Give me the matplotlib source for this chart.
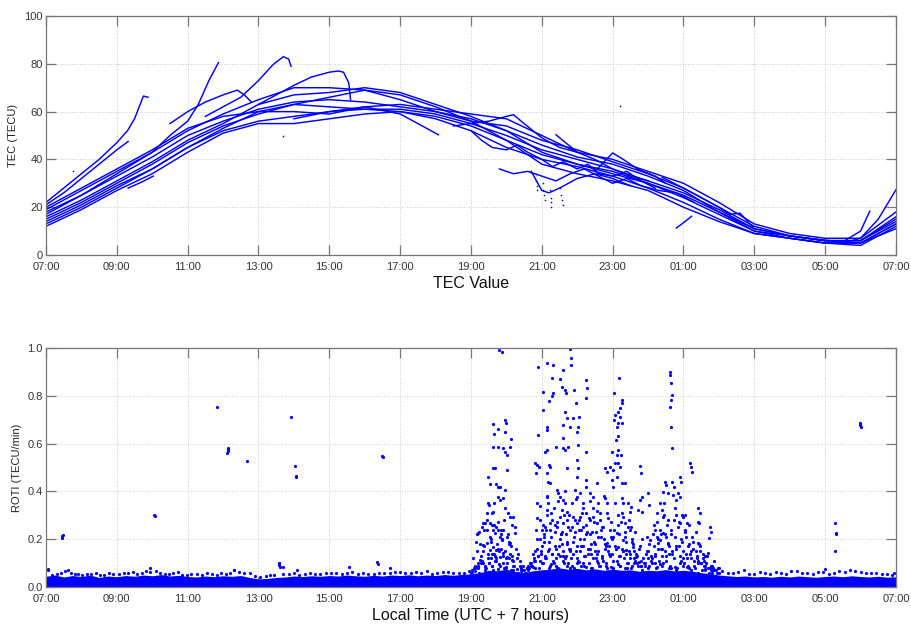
import matplotlib
matplotlib.use("Agg")
import matplotlib.pyplot as plt

# ---------------- data ----------------
hour_ticks = [7, 9, 11, 13, 15, 17, 19, 21, 23, 25, 27, 29, 31]
hour_tick_labels = ["07:00", "09:00", "11:00", "13:00", "15:00", "17:00", "19:00",
                    "21:00", "23:00", "01:00", "03:00", "05:00", "07:00"]
tec_yticks = [0, 20, 40, 60, 80, 100]
roti_yticks = [0.0, 0.2, 0.4, 0.6, 0.8, 1.0]
roti_yticklabels = ["0.0", "0.2", "0.4", "0.6", "0.8", "1.0"]

hours_full = [7, 8, 9, 10, 11, 12, 13, 14, 15, 16, 17, 18, 19, 20, 21, 22, 23, 24,
              25, 26, 27, 28, 29, 30, 31]
sat01 = [13, 20, 28, 36, 45, 52, 56, 58, 60, 61, 60, 57, 52, 45, 40, 37, 33, 28, 22, 15, 9, 7, 5, 5, 11]
sat02 = [15, 22, 30, 38, 47, 54, 59, 63, 66, 69, 67, 62, 56, 48, 42, 38, 35, 30, 24, 17, 10, 8, 6, 5, 13]
sat03 = [17, 25, 33, 41, 50, 56, 61, 64, 65, 64, 62, 60, 57, 52, 46, 41, 38, 33, 27, 18, 11, 8, 6, 6, 15]
sat04 = [19, 27, 35, 43, 52, 59, 65, 70, 70, 69, 65, 60, 56, 54, 48, 44, 39, 34, 28, 20, 12, 8, 6, 6, 16]
sat05 = [20, 28, 36, 44, 53, 58, 60, 60, 59, 62, 63, 61, 59, 57, 50, 43, 40, 35, 30, 22, 13, 9, 7, 7, 18]
sat06 = [12, 19, 27, 34, 43, 51, 55, 55, 57, 59, 60, 58, 54, 48, 38, 34, 31, 27, 20, 14, 9, 7, 5, 4, 12]
sat07 = [14, 21, 29, 36, 45, 53, 60, 63, 62, 61, 61, 59, 55, 50, 44, 40, 36, 31, 26, 19, 11, 8, 6, 6, 14]
sat08 = [16, 23, 31, 39, 48, 55, 63, 67, 68, 70, 68, 63, 58, 52, 43, 38, 34, 30, 25, 18, 10, 7, 5, 5, 13]

sat09_t = [7, 7.5, 8, 8.5, 9, 9.3, 9.5, 9.75, 9.88]
sat09_v = [22, 28, 34, 40, 47, 52, 57, 66.5, 66]
sat10_t = [7, 7.5, 8, 8.5, 9, 9.32]
sat10_v = [21, 26, 32, 38, 44, 47.5]
sat11_t = [7, 8, 9, 10, 10.5, 11, 11.3, 11.6, 11.87]
sat11_v = [18, 25, 34, 43, 50, 56, 63, 73, 80.5]
sat12_t = [11.5, 12, 12.5, 13, 13.4, 13.7, 13.85, 13.92]
sat12_v = [58, 62, 66, 73, 79.5, 83, 82, 79]
sat13_t = [10.5, 11, 11.5, 12, 12.4, 12.6, 12.8]
sat13_v = [55, 60, 64, 67, 69, 67, 64]
sat14_t = [13, 13.5, 14, 14.5, 15, 15.25, 15.4, 15.55, 15.6]
sat14_v = [63, 67, 71, 74.5, 76.5, 77, 76.5, 72, 65]
sat15_t = [14, 15, 16, 17, 17.5, 18.08]
sat15_v = [57, 60, 62, 59, 55, 50.3]
sat16_t = [18.5, 19, 19.5, 20, 20.2, 20.5, 21, 21.5, 22]
sat16_v = [54, 55, 56, 58, 58.7, 55, 49, 45, 43]
sat17_t = [21.4, 22, 22.5, 23, 23.5, 24]
sat17_v = [50.3, 43, 40, 36, 33, 31]
sat18_t = [20.7, 21.0, 21.2, 21.5, 22, 22.5, 23, 23.5]
sat18_v = [35, 27, 26, 28, 32, 34, 32, 29]
sat19_t = [22.5, 23.0, 23.3, 23.7, 24.2, 24.5]
sat19_v = [35, 42.7, 40, 36, 33, 30]
sat20_t = [24.8, 25.0, 25.23]
sat20_v = [11.3, 13.5, 16.2]
sat21_t = [28.5, 29.5, 30.0, 30.26]
sat21_v = [7, 5.5, 10, 18.3]
sat22_t = [29.5, 30, 30.5, 31]
sat22_v = [5, 7, 15, 27.3]
sat23_t = [9.32, 9.7, 10.03]
sat23_v = [28, 30.5, 33]
sat24_t = [24.4, 25, 25.5, 26, 26.3, 26.6, 27]
sat24_v = [32.5, 28, 24, 20, 17, 17.5, 11]
sat25_t = [19, 19.3, 19.6, 20, 20.3, 20.6, 21, 21.3, 21.6, 22, 22.3, 22.6, 23, 23.4, 23.8, 24.2]
sat25_v = [52, 48, 45, 44, 46, 43, 40, 37, 39, 36, 38, 34, 33, 35, 31, 28]
sat26_t = [19.8, 20.2, 20.6, 21.0, 21.4, 21.8, 22.2, 22.6, 23.0, 23.4, 23.8, 24.3, 24.8, 25.3]
sat26_v = [36, 34, 35, 33, 31, 34, 36, 33, 30, 32, 29, 27, 26, 22]

tec_dots_t = [7.77, 13.68, 23.2, 20.83, 20.84, 20.85, 20.86, 21.02, 21.04, 21.06, 21.08,
              21.24, 21.25, 21.26, 21.27, 21.52, 21.55, 21.57, 21.59]
tec_dots_v = [35, 49.7, 62.2, 34, 31, 29, 27, 30, 27, 25, 23, 27, 24, 22, 20, 28, 25, 23, 21]

# ROTI quiet background level (upper edge of the dense band), every 15 min 07:00 -> 07:00
roti_band_t = [7.0 + 0.25 * i for i in range(97)]
roti_band_v = [0.045, 0.05, 0.042, 0.048, 0.044, 0.05, 0.04, 0.046, 0.043,
               0.048, 0.045, 0.05, 0.047, 0.052, 0.046, 0.049, 0.044,
               0.042, 0.046, 0.043, 0.047, 0.045, 0.048, 0.04, 0.034,
               0.036, 0.04, 0.042, 0.046, 0.044, 0.047, 0.045, 0.048,
               0.046, 0.05, 0.047, 0.045, 0.049, 0.046, 0.05, 0.048,
               0.051, 0.047, 0.05, 0.048, 0.052, 0.049, 0.053, 0.055,
               0.06, 0.07, 0.068, 0.075, 0.065, 0.06, 0.068, 0.072,
               0.075, 0.08, 0.074, 0.078, 0.072, 0.076, 0.07, 0.075,
               0.07, 0.072, 0.066, 0.07, 0.068, 0.073, 0.067, 0.07,
               0.066, 0.06, 0.056, 0.05, 0.047, 0.044, 0.046, 0.042,
               0.044, 0.041, 0.045, 0.042, 0.046, 0.043, 0.041, 0.044,
               0.046, 0.043, 0.047, 0.044, 0.042, 0.045, 0.041, 0.043]

roti_edge_t = [7.05, 7.3, 7.55, 7.7, 7.9, 8.15, 8.4, 8.65, 8.9, 9.2, 9.45, 9.7, 9.95,
               10.1, 10.35, 10.6, 10.85, 11.1, 11.4, 11.7, 11.95, 12.2, 12.45, 12.6,
               12.9, 13.2, 13.45, 13.7, 14.0, 14.3, 14.6, 14.9, 15.2, 15.5, 15.8, 16.1,
               16.4, 16.7, 17.0, 17.3, 17.6, 17.9, 18.2, 18.5, 18.8, 19.1, 26.1, 26.4,
               26.7, 27.0, 27.3, 27.6, 27.9, 28.2, 28.5, 28.8, 29.1, 29.4, 29.7, 30.0,
               30.3, 30.6, 30.9]
roti_edge_v = [0.07, 0.055, 0.065, 0.06, 0.055, 0.055, 0.058, 0.05, 0.055, 0.058, 0.062,
               0.06, 0.064, 0.066, 0.055, 0.058, 0.052, 0.055, 0.05, 0.054, 0.058, 0.06,
               0.062, 0.058, 0.045, 0.046, 0.052, 0.055, 0.058, 0.055, 0.056, 0.058, 0.06,
               0.058, 0.055, 0.056, 0.058, 0.06, 0.062, 0.058, 0.06, 0.056, 0.062, 0.058,
               0.06, 0.066, 0.065, 0.058, 0.07, 0.055, 0.058, 0.062, 0.055, 0.066, 0.058,
               0.062, 0.055, 0.066, 0.07, 0.062, 0.058, 0.055, 0.052]
roti_edge2_t = [7.18, 7.42, 7.62, 7.82, 8.02, 8.28, 8.52, 8.78, 9.05, 9.32, 9.58, 9.82,
                10.22, 10.48, 10.72, 10.98, 11.25, 11.55, 11.82, 12.08, 12.32, 12.75,
                13.05, 13.32, 13.58, 13.85, 14.15, 14.45, 14.75, 15.05, 15.35, 15.65,
                15.95, 16.25, 16.55, 16.85, 17.15, 17.45, 17.75, 18.05, 18.35, 18.65,
                18.95, 26.25, 26.55, 26.85, 27.15, 27.45, 27.75, 28.05, 28.35, 28.65,
                28.95, 29.25, 29.55, 29.85, 30.15, 30.45, 30.75, 30.95]
roti_edge2_v = [0.052, 0.058, 0.07, 0.055, 0.05, 0.056, 0.052, 0.06, 0.054, 0.06, 0.055,
                0.065, 0.06, 0.056, 0.064, 0.05, 0.054, 0.058, 0.052, 0.056, 0.07, 0.06,
                0.042, 0.05, 0.1, 0.056, 0.052, 0.058, 0.055, 0.06, 0.056, 0.062, 0.058,
                0.055, 0.06, 0.064, 0.058, 0.062, 0.068, 0.06, 0.064, 0.058, 0.066,
                0.058, 0.062, 0.056, 0.064, 0.055, 0.06, 0.066, 0.058, 0.054, 0.062,
                0.058, 0.064, 0.066, 0.058, 0.06, 0.055, 0.058]

roti_day_t = [7.44, 7.45, 7.47, 10.05, 10.07, 11.82, 12.12, 12.13, 12.14, 12.15, 12.67,
              13.92, 14.04, 14.06, 14.07, 16.49, 16.51, 13.58, 13.59, 13.6, 13.7, 14.1,
              15.55, 16.35, 16.37, 16.7, 7.05, 9.95, 12.3]
roti_day_v = [0.204, 0.213, 0.218, 0.30, 0.298, 0.752, 0.56, 0.57, 0.578, 0.583, 0.526,
              0.71, 0.508, 0.465, 0.462, 0.548, 0.542, 0.10, 0.092, 0.084, 0.082, 0.07,
              0.085, 0.105, 0.095, 0.08, 0.075, 0.08, 0.07]

roti_evening_t = [19.80, 19.88, 19.61, 19.64, 19.75, 19.97, 19.99, 19.96, 19.61, 19.75,
                  19.91, 19.96, 20.03, 20.13, 20.10, 20.03, 19.63, 19.68, 19.49, 19.54,
                  19.72, 19.77, 19.82, 19.47, 19.52, 19.58, 19.63, 19.77, 19.82, 19.91,
                  19.96, 20.05, 20.10, 20.19, 19.16, 19.21, 19.30, 19.35, 19.40, 19.44,
                  19.54, 19.58, 19.63, 19.68, 19.72, 19.77, 19.82, 19.87, 19.91, 20.01,
                  20.10, 20.24, 19.35, 19.44, 19.54, 19.63, 19.72, 19.82, 19.91, 20.01,
                  20.15, 19.25, 19.35, 19.1, 19.2, 19.4, 19.5, 19.6, 19.7, 19.8, 19.9,
                  20.0, 20.2, 20.3, 20.4, 19.66, 19.86, 20.06, 19.56, 19.76]
roti_evening_v = [0.99, 0.985, 0.68, 0.64, 0.66, 0.70, 0.685, 0.65, 0.587, 0.587, 0.58,
                  0.566, 0.552, 0.62, 0.587, 0.49, 0.50, 0.50, 0.46, 0.43, 0.43, 0.42,
                  0.42, 0.35, 0.343, 0.308, 0.315, 0.378, 0.364, 0.371, 0.406, 0.308,
                  0.294, 0.294, 0.222, 0.225, 0.252, 0.266, 0.266, 0.238, 0.266, 0.26,
                  0.238, 0.225, 0.252, 0.238, 0.21, 0.197, 0.238, 0.21, 0.183, 0.225,
                  0.176, 0.183, 0.155, 0.169, 0.155, 0.127, 0.141, 0.127, 0.113, 0.113,
                  0.099, 0.08, 0.09, 0.085, 0.10, 0.09, 0.11, 0.095, 0.10, 0.085, 0.09,
                  0.075, 0.07, 0.14, 0.16, 0.12, 0.12, 0.075]

roti_night_t = [20.88, 21.16, 21.32, 21.79, 21.81, 21.81, 21.59, 21.30, 21.51, 21.56,
                21.32, 21.04, 21.19, 21.29, 21.65, 21.68, 21.91, 21.96, 21.89, 22.06,
                21.65, 21.70, 21.61, 21.79, 22.03, 21.98, 22.26, 22.28, 22.26, 20.90,
                21.16, 21.15, 21.04, 20.82, 20.87, 20.93, 20.83, 21.09, 21.14, 21.19,
                21.23, 21.14, 21.18, 21.23, 21.40, 21.59, 21.59, 21.65, 21.75, 21.70,
                22.03, 22.00, 22.03, 21.98, 22.26, 22.26, 20.87, 21.14, 21.18, 21.14,
                21.42, 21.46, 21.51, 21.61, 21.65, 21.56, 21.70, 21.94, 21.98, 22.08,
                22.17, 22.26, 22.36, 22.45, 22.55, 22.59, 20.96, 21.0, 21.09, 21.23,
                21.28, 21.42, 21.51, 21.61, 21.70, 21.79, 21.89, 21.98, 22.08, 22.17,
                22.26, 22.36, 22.45, 22.55, 22.64, 22.69, 20.8, 20.9, 21.0, 21.1, 21.2,
                21.3, 21.4, 21.5, 21.6, 21.7, 21.8, 21.9, 22.0, 22.1, 22.2, 22.3, 22.4,
                22.5, 22.6, 22.7, 22.8, 20.7, 20.85, 21.05, 21.35, 21.55, 21.75, 21.95,
                22.15, 22.35, 22.55, 22.75, 20.75, 20.95, 21.25, 21.45, 21.65, 21.85,
                22.05, 22.25, 22.45, 22.65, 22.85, 21.12, 21.38, 21.72, 22.12, 22.42]
roti_night_v = [0.92, 0.936, 0.93, 0.996, 0.957, 0.93, 0.91, 0.873, 0.869, 0.838, 0.81,
                0.815, 0.78, 0.80, 0.824, 0.81, 0.824, 0.768, 0.706, 0.713, 0.734, 0.706,
                0.678, 0.67, 0.67, 0.65, 0.866, 0.831, 0.79, 0.636, 0.67, 0.657, 0.74,
                0.517, 0.51, 0.503, 0.476, 0.566, 0.573, 0.51, 0.503, 0.476, 0.44, 0.434,
                0.587, 0.622, 0.58, 0.573, 0.587, 0.497, 0.594, 0.531, 0.497, 0.462,
                0.566, 0.448, 0.35, 0.378, 0.35, 0.322, 0.406, 0.392, 0.378, 0.364, 0.35,
                0.322, 0.315, 0.406, 0.378, 0.392, 0.35, 0.42, 0.392, 0.378, 0.434, 0.35,
                0.28, 0.238, 0.252, 0.266, 0.28, 0.252, 0.294, 0.266, 0.28, 0.238, 0.294,
                0.266, 0.294, 0.252, 0.308, 0.28, 0.294, 0.266, 0.308, 0.252, 0.15, 0.13,
                0.17, 0.12, 0.19, 0.14, 0.16, 0.20, 0.13, 0.18, 0.15, 0.21, 0.12, 0.17,
                0.20, 0.14, 0.18, 0.15, 0.21, 0.12, 0.17, 0.10, 0.20, 0.22, 0.10, 0.22,
                0.10, 0.23, 0.10, 0.22, 0.11, 0.20, 0.085, 0.11, 0.095, 0.08, 0.12,
                0.09, 0.105, 0.085, 0.12, 0.09, 0.08, 0.24, 0.23, 0.19, 0.24, 0.23]

roti_late_t = [23.17, 23.05, 23.25, 23.27, 23.22, 23.16, 23.21, 23.06, 23.04, 23.16,
               23.25, 23.11, 23.09, 23.16, 23.14, 23.11, 22.97, 23.23, 22.78, 22.83,
               22.92, 23.02, 23.06, 23.16, 23.21, 22.97, 23.02, 23.11, 23.25, 23.35,
               22.78, 22.83, 23.25, 23.30, 23.44, 23.49, 23.53, 23.30, 23.35, 23.49,
               23.53, 23.72, 23.77, 23.82, 22.92, 23.02, 23.11, 22.83, 23.16, 23.30,
               23.39, 23.58, 23.67, 22.9, 23.0, 23.1, 23.2, 23.3, 23.4, 23.5, 23.6, 23.7,
               23.8, 22.95, 23.15, 23.35, 23.55, 23.75]
roti_late_v = [0.876, 0.81, 0.782, 0.768, 0.748, 0.734, 0.713, 0.72, 0.70, 0.685, 0.685,
               0.67, 0.615, 0.63, 0.573, 0.552, 0.566, 0.552, 0.497, 0.483, 0.503, 0.49,
               0.517, 0.517, 0.503, 0.448, 0.42, 0.462, 0.434, 0.434, 0.371, 0.35, 0.371,
               0.35, 0.35, 0.315, 0.336, 0.294, 0.266, 0.238, 0.252, 0.322, 0.364, 0.315,
               0.238, 0.21, 0.225, 0.183, 0.169, 0.197, 0.155, 0.169, 0.127, 0.14, 0.11,
               0.16, 0.13, 0.15, 0.10, 0.14, 0.12, 0.10, 0.09, 0.085, 0.095, 0.08, 0.09,
               0.105]

roti_midnight_t = [24.62, 24.63, 24.66, 24.68, 24.66, 24.61, 24.64, 24.68, 25.18, 25.20,
                   25.23, 23.77, 23.79, 24.48, 24.52, 24.57, 24.69, 24.73, 24.90, 24.93,
                   24.85, 24.71, 24.79, 24.90, 24.43, 24.0, 24.03, 23.82, 24.33, 24.38,
                   24.43, 24.80, 24.99, 25.04, 25.09, 25.04, 24.90, 25.42, 25.46, 25.42,
                   25.44, 25.42, 25.75, 25.77, 25.73, 25.70, 23.96, 24.05, 24.19, 24.24,
                   24.29, 24.33, 24.43, 24.52, 24.57, 24.0, 24.2, 24.4, 24.6, 24.8, 25.0,
                   25.2, 25.4, 25.6, 25.8, 26.0, 24.1, 24.5, 24.9, 25.3, 25.5, 24.25,
                   24.65, 25.1, 25.6, 25.9, 23.9, 24.35, 24.75, 25.15]
roti_midnight_v = [0.90, 0.887, 0.855, 0.803, 0.782, 0.752, 0.671, 0.58, 0.517, 0.503,
                   0.483, 0.506, 0.476, 0.44, 0.427, 0.392, 0.44, 0.42, 0.462, 0.44,
                   0.392, 0.385, 0.364, 0.378, 0.399, 0.392, 0.343, 0.378, 0.35, 0.322,
                   0.294, 0.301, 0.294, 0.301, 0.266, 0.238, 0.266, 0.329, 0.308, 0.273,
                   0.266, 0.183, 0.252, 0.232, 0.204, 0.141, 0.21, 0.197, 0.238, 0.21,
                   0.183, 0.197, 0.225, 0.21, 0.183, 0.15, 0.13, 0.16, 0.14, 0.17, 0.12,
                   0.15, 0.11, 0.13, 0.09, 0.08, 0.10, 0.11, 0.10, 0.09, 0.10, 0.085,
                   0.08, 0.085, 0.075, 0.07, 0.09, 0.095, 0.085, 0.08]

roti_dawn_t = [29.29, 29.32, 29.30, 29.28, 29.98, 30.0, 29.99, 28.99]
roti_dawn_v = [0.266, 0.225, 0.22, 0.152, 0.685, 0.67, 0.678, 0.074]

# dense low-level scintillation points 19:00 - 02:00, in overlapping layers
dense_a_t = [19.02, 19.12, 19.22, 19.32, 19.42, 19.52, 19.62, 19.72, 19.82, 19.92,
             20.02, 20.12, 20.22, 20.32, 20.42, 20.52, 20.62, 20.72, 20.82, 20.92,
             21.02, 21.12, 21.22, 21.32, 21.42, 21.52, 21.62, 21.72, 21.82, 21.92,
             22.02, 22.12, 22.22, 22.32, 22.42, 22.52, 22.62, 22.72, 22.82, 22.92,
             23.02, 23.12, 23.22, 23.32, 23.42, 23.52, 23.62, 23.72, 23.82, 23.92,
             24.02, 24.12, 24.22, 24.32, 24.42, 24.52, 24.62, 24.72, 24.82, 24.92,
             25.02, 25.12, 25.22, 25.32, 25.42, 25.52, 25.62, 25.72, 25.82, 25.92]
dense_a_v = [0.07, 0.09, 0.06, 0.11, 0.08, 0.10, 0.07, 0.12, 0.09, 0.08,
             0.10, 0.07, 0.09, 0.06, 0.08, 0.06, 0.07, 0.09, 0.11, 0.08,
             0.10, 0.12, 0.09, 0.11, 0.08, 0.13, 0.10, 0.09, 0.12, 0.08,
             0.11, 0.09, 0.13, 0.10, 0.08, 0.12, 0.09, 0.11, 0.10, 0.13,
             0.08, 0.11, 0.09, 0.12, 0.10, 0.08, 0.11, 0.09, 0.07, 0.10,
             0.09, 0.12, 0.08, 0.11, 0.10, 0.13, 0.09, 0.12, 0.08, 0.11,
             0.10, 0.09, 0.12, 0.08, 0.10, 0.07, 0.09, 0.06, 0.08, 0.07]
dense_b_t = [19.07, 19.17, 19.27, 19.37, 19.47, 19.57, 19.67, 19.77, 19.87, 19.97,
             20.07, 20.17, 20.27, 20.37, 20.47, 20.57, 20.67, 20.77, 20.87, 20.97,
             21.07, 21.17, 21.27, 21.37, 21.47, 21.57, 21.67, 21.77, 21.87, 21.97,
             22.07, 22.17, 22.27, 22.37, 22.47, 22.57, 22.67, 22.77, 22.87, 22.97,
             23.07, 23.17, 23.27, 23.37, 23.47, 23.57, 23.67, 23.77, 23.87, 23.97,
             24.07, 24.17, 24.27, 24.37, 24.47, 24.57, 24.67, 24.77, 24.87, 24.97,
             25.07, 25.17, 25.27, 25.37, 25.47, 25.57, 25.67, 25.77, 25.87, 25.97]
dense_b_v = [0.12, 0.15, 0.10, 0.17, 0.14, 0.19, 0.13, 0.16, 0.20, 0.15,
             0.18, 0.13, 0.16, 0.11, 0.09, 0.08, 0.10, 0.12, 0.16, 0.14,
             0.19, 0.15, 0.21, 0.17, 0.14, 0.18, 0.22, 0.16, 0.19, 0.15,
             0.20, 0.17, 0.23, 0.16, 0.19, 0.14, 0.21, 0.18, 0.15, 0.20,
             0.17, 0.22, 0.16, 0.19, 0.15, 0.18, 0.14, 0.17, 0.12, 0.15,
             0.13, 0.17, 0.20, 0.16, 0.22, 0.18, 0.15, 0.21, 0.17, 0.19,
             0.14, 0.18, 0.16, 0.13, 0.15, 0.11, 0.13, 0.09, 0.11, 0.08]
dense_c_t = [19.04, 19.14, 19.24, 19.34, 19.44, 19.54, 19.64, 19.74, 19.84, 19.94,
             20.04, 20.14, 20.24, 20.34, 20.44, 20.54, 20.64, 20.74, 20.84, 20.94,
             21.04, 21.14, 21.24, 21.34, 21.44, 21.54, 21.64, 21.74, 21.84, 21.94,
             22.04, 22.14, 22.24, 22.34, 22.44, 22.54, 22.64, 22.74, 22.84, 22.94,
             23.04, 23.14, 23.24, 23.34, 23.44, 23.54, 23.64, 23.74, 23.84, 23.94,
             24.04, 24.14, 24.24, 24.34, 24.44, 24.54, 24.64, 24.74, 24.84, 24.94,
             25.04, 25.14, 25.24, 25.34, 25.44, 25.54, 25.64, 25.74, 25.84, 25.94]
dense_c_v = [0.06, 0.19, 0.23, 0.15, 0.28, 0.21, 0.26, 0.18, 0.24, 0.28,
             0.22, 0.17, 0.25, 0.14, 0.07, 0.06, 0.08, 0.14, 0.24, 0.20,
             0.26, 0.30, 0.24, 0.33, 0.27, 0.22, 0.30, 0.25, 0.35, 0.28,
             0.24, 0.31, 0.26, 0.29, 0.33, 0.23, 0.28, 0.25, 0.31, 0.27,
             0.24, 0.30, 0.27, 0.21, 0.25, 0.19, 0.23, 0.16, 0.20, 0.14,
             0.18, 0.22, 0.27, 0.24, 0.30, 0.26, 0.22, 0.28, 0.25, 0.20,
             0.23, 0.17, 0.21, 0.15, 0.18, 0.12, 0.10, 0.08, 0.07, 0.06]
dense_d_t = [19.09, 19.19, 19.29, 19.39, 19.49, 19.59, 19.69, 19.79, 19.89, 19.99,
             20.09, 20.19, 20.29, 20.39, 20.49, 20.59, 20.69, 20.79, 20.89, 20.99,
             21.09, 21.19, 21.29, 21.39, 21.49, 21.59, 21.69, 21.79, 21.89, 21.99,
             22.09, 22.19, 22.29, 22.39, 22.49, 22.59, 22.69, 22.79, 22.89, 22.99,
             23.09, 23.19, 23.29, 23.39, 23.49, 23.59, 23.69, 23.79, 23.89, 23.99,
             24.09, 24.19, 24.29, 24.39, 24.49, 24.59, 24.69, 24.79, 24.89, 24.99,
             25.09, 25.19, 25.29, 25.39, 25.49, 25.59, 25.69, 25.79, 25.89, 25.99]
dense_d_v = [0.08, 0.10, 0.13, 0.09, 0.12, 0.14, 0.11, 0.15, 0.13, 0.12,
             0.14, 0.11, 0.12, 0.09, 0.07, 0.08, 0.09, 0.11, 0.13, 0.15,
             0.13, 0.16, 0.14, 0.12, 0.17, 0.15, 0.13, 0.16, 0.14, 0.17,
             0.15, 0.13, 0.16, 0.14, 0.18, 0.15, 0.13, 0.16, 0.17, 0.14,
             0.16, 0.13, 0.15, 0.14, 0.12, 0.15, 0.13, 0.11, 0.10, 0.12,
             0.11, 0.14, 0.16, 0.13, 0.15, 0.17, 0.14, 0.16, 0.13, 0.15,
             0.12, 0.14, 0.11, 0.12, 0.10, 0.09, 0.08, 0.07, 0.07, 0.06]
dense_e_t = [19.26, 19.36, 19.46, 19.56, 19.66, 19.76, 19.86, 19.96, 20.06, 20.16,
             20.86, 20.96, 21.06, 21.16, 21.26, 21.36, 21.46, 21.56, 21.66, 21.76,
             21.86, 21.96, 22.06, 22.16, 22.26, 22.36, 22.46, 22.56, 22.66, 22.76,
             22.86, 22.96, 23.06, 23.16, 23.26, 23.36, 23.46, 23.56,
             24.16, 24.26, 24.36, 24.46, 24.56, 24.66, 24.76, 24.86, 24.96, 25.06,
             25.16, 25.26, 25.36, 25.46, 25.56]
dense_e_v = [0.18, 0.24, 0.31, 0.20, 0.35, 0.27, 0.22, 0.33, 0.19, 0.26,
             0.29, 0.34, 0.21, 0.38, 0.31, 0.26, 0.36, 0.23, 0.40, 0.30,
             0.25, 0.37, 0.28, 0.33, 0.22, 0.36, 0.27, 0.32, 0.24, 0.38,
             0.29, 0.21, 0.35, 0.26, 0.31, 0.23, 0.28, 0.20,
             0.26, 0.31, 0.22, 0.35, 0.28, 0.24, 0.33, 0.27, 0.30, 0.21,
             0.26, 0.19, 0.23, 0.17, 0.14]
dense_f_t = [19.0, 19.2, 19.4, 19.6, 19.8, 20.0, 20.2, 20.4, 20.6, 20.8, 21.0, 21.2,
             21.4, 21.6, 21.8, 22.0, 22.2, 22.4, 22.6, 22.8, 23.0, 23.2, 23.4, 23.6,
             23.8, 24.0, 24.2, 24.4, 24.6, 24.8, 25.0, 25.2, 25.4, 25.6, 25.8]
dense_f_v = [0.06, 0.08, 0.07, 0.09, 0.06, 0.08, 0.07, 0.06, 0.09, 0.08, 0.10, 0.08,
             0.09, 0.11, 0.08, 0.10, 0.09, 0.08, 0.10, 0.09, 0.07, 0.09, 0.08, 0.10,
             0.09, 0.08, 0.10, 0.09, 0.08, 0.07, 0.09, 0.07, 0.06, 0.07, 0.06]

# ---------------- figure ----------------
plt.rcParams['font.family'] = ['Liberation Sans', 'DejaVu Sans']
blue = '#0000ff'
fig = plt.figure(figsize=(9.11, 6.31), dpi=100)
ax1 = fig.add_axes([0.0505, 0.5959, 0.933, 0.3787])
ax2 = fig.add_axes([0.0505, 0.0697, 0.933, 0.3788])

def style(ax):
    ax.set_xlim(7, 31)
    ax.set_xticks(hour_ticks)
    ax.set_xticklabels(hour_tick_labels)
    ax.grid(True, linestyle=':', color='#cccccc', linewidth=0.7)
    ax.tick_params(direction='in', length=7.5, width=0.9, color='#777777',
                   top=True, right=True, labelsize=8, labelcolor='#333333')
    ax.tick_params(axis='x', pad=5)
    ax.tick_params(axis='y', pad=2.5)
    for s in ax.spines.values():
        s.set_color('#777777')
        s.set_linewidth(0.9)
    ax.set_axisbelow(True)

style(ax1)
for v in [sat01, sat02, sat03, sat04, sat05, sat06, sat07, sat08]:
    ax1.plot(hours_full, v, color=blue, lw=1.05)
for t, v in [(sat09_t, sat09_v), (sat10_t, sat10_v), (sat11_t, sat11_v), (sat12_t, sat12_v),
             (sat13_t, sat13_v), (sat14_t, sat14_v), (sat15_t, sat15_v), (sat16_t, sat16_v),
             (sat17_t, sat17_v), (sat18_t, sat18_v), (sat19_t, sat19_v), (sat20_t, sat20_v),
             (sat21_t, sat21_v), (sat22_t, sat22_v), (sat23_t, sat23_v), (sat24_t, sat24_v),
             (sat25_t, sat25_v), (sat26_t, sat26_v)]:
    ax1.plot(t, v, color=blue, lw=1.05)
ax1.plot(tec_dots_t, tec_dots_v, 'o', color=blue, ms=1.2, mew=0)
ax1.set_ylim(0, 100)
ax1.set_yticks(tec_yticks)
ax1.set_ylabel('TEC (TECU)', fontsize=8, color='#222222', labelpad=4)
ax1.set_xlabel('TEC Value', fontsize=11.5, color='#111111', labelpad=3)

style(ax2)
ax2.fill_between(roti_band_t, 0, roti_band_v, color=blue, lw=0)
ms = 2.3
for t, v in [(roti_edge_t, roti_edge_v), (roti_edge2_t, roti_edge2_v),
             (dense_a_t, dense_a_v), (dense_b_t, dense_b_v),
             (dense_c_t, dense_c_v), (dense_d_t, dense_d_v),
             (dense_e_t, dense_e_v), (dense_f_t, dense_f_v),
             (roti_day_t, roti_day_v), (roti_evening_t, roti_evening_v),
             (roti_night_t, roti_night_v), (roti_late_t, roti_late_v),
             (roti_midnight_t, roti_midnight_v), (roti_dawn_t, roti_dawn_v)]:
    ax2.plot(t, v, 'o', color=blue, ms=ms, mew=0)
ax2.set_ylim(0, 1.0)
ax2.set_yticks(roti_yticks)
ax2.set_yticklabels(roti_yticklabels)
ax2.set_ylabel('ROTI (TECU/min)', fontsize=8, color='#222222', labelpad=4)
ax2.set_xlabel('Local Time (UTC + 7 hours)', fontsize=11.5, color='#111111', labelpad=3)

fig.savefig('out.png', dpi=100)
